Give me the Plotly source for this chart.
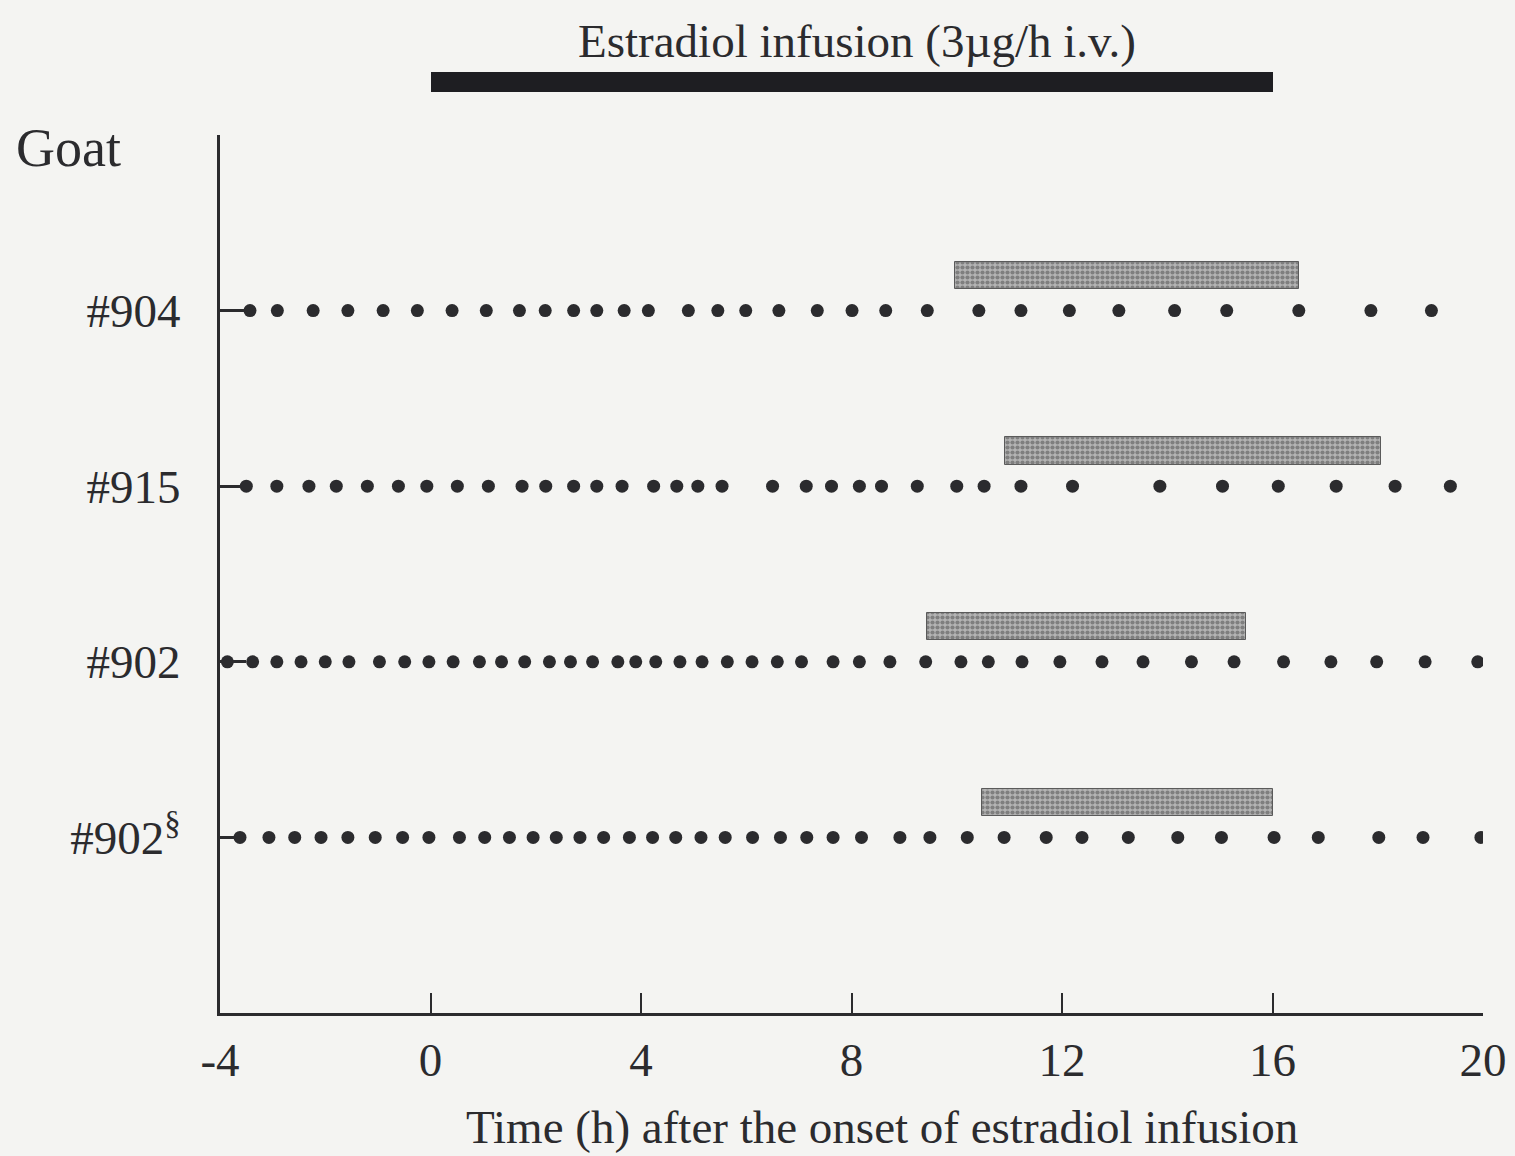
import plotly.graph_objects as go

# Sampling times (h after onset of estradiol infusion) for each goat
t904 = [-3.43, -2.91, -2.23, -1.57, -0.90, -0.25, 0.41, 1.06, 1.69, 2.18, 2.72, 3.16,
        3.68, 4.14, 4.90, 5.46, 5.99, 6.62, 7.35, 8.01, 8.65, 9.44, 10.42, 11.22, 12.14,
        13.08, 14.14, 15.13, 16.50, 17.87, 19.02]
t915 = [-3.50, -2.92, -2.31, -1.79, -1.20, -0.61, -0.07, 0.51, 1.10, 1.74, 2.19, 2.72,
        3.16, 3.64, 4.24, 4.68, 5.08, 5.54, 6.50, 7.14, 7.62, 8.15, 8.57, 9.25, 10.00,
        10.52, 11.22, 12.20, 13.86, 15.05, 16.11, 17.21, 18.33, 19.38]
t902 = [-3.86, -3.38, -2.92, -2.46, -2.00, -1.55, -0.97, -0.49, -0.03, 0.43, 0.93, 1.35,
        1.79, 2.26, 2.66, 3.08, 3.56, 3.90, 4.28, 4.74, 5.16, 5.64, 6.11, 6.59, 7.05, 7.65,
        8.15, 8.73, 9.41, 10.08, 10.60, 11.24, 11.96, 12.76, 13.54, 14.46, 15.27, 16.21,
        17.11, 17.98, 18.90, 19.90]
t902s = [-3.62, -3.07, -2.58, -2.08, -1.57, -1.05, -0.53, -0.03, 0.55, 1.03, 1.50, 1.95,
         2.39, 2.84, 3.29, 3.78, 4.22, 4.66, 5.14, 5.60, 6.12, 6.65, 7.15, 7.65, 8.19,
         8.92, 9.49, 10.20, 10.90, 11.70, 12.38, 13.26, 14.20, 15.03, 16.03, 16.87, 18.02,
         18.86, 19.96]

goats = ["#904", "#915", "#902", "#902<sup>§</sup>"]
goat_rows = [4, 3, 2, 1]
samples = [t904, t915, t902, t902s]

# LH surge periods (start, end) per goat
surge_start = [9.96, 10.92, 9.43, 10.48]
surge_end = [16.51, 18.06, 15.50, 16.00]

# Estradiol infusion period
infusion_start = 0
infusion_end = 16

x_ticks = [-4, 0, 4, 8, 12, 16, 20]

serif = "Liberation Serif"
ink = "#2b2b2e"
fs = 47

fig = go.Figure()

# Surge bars, drawn slightly above each sampling row
fig.add_trace(go.Bar(
    orientation="h",
    y=[r + 0.2 for r in goat_rows],
    base=surge_start,
    x=[e - s for s, e in zip(surge_start, surge_end)],
    width=0.155,
    marker=dict(
        color="#a8a8a8",
        line=dict(color="#5a5a5a", width=1),
        pattern=dict(shape=".", fgcolor="#4a4a4a", bgcolor="#b4b4b4", size=5, solidity=0.55),
    ),
    showlegend=False,
    hoverinfo="skip",
))

# Sampling points
for row, t in zip(goat_rows, samples):
    fig.add_trace(go.Scatter(
        x=t, y=[row] * len(t), mode="markers",
        marker=dict(size=13, color=ink),
        showlegend=False, hoverinfo="skip",
    ))

# Infusion bar on its own strip above the main panel
fig.add_trace(go.Bar(
    orientation="h",
    y=[0.5], base=[infusion_start], x=[infusion_end - infusion_start],
    width=1.0, marker=dict(color="#1e1e22", line=dict(width=0)),
    yaxis="y2", showlegend=False, hoverinfo="skip",
))

fig.update_layout(
    width=1515, height=1156,
    margin=dict(l=220, r=32, t=20, b=143),
    paper_bgcolor="#f4f4f2",
    plot_bgcolor="rgba(0,0,0,0)",
    font=dict(family=serif, size=fs, color=ink),
    bargap=0,
    xaxis=dict(
        range=[-4, 20], tickvals=x_ticks, ticktext=[str(v) for v in x_ticks],
        showgrid=False, zeroline=False,
        showline=True, linecolor=ink, linewidth=3,
        ticks="inside", ticklen=20, tickwidth=2, tickcolor=ink,
        ticklabelstandoff=4,
        tickfont=dict(family=serif, size=fs, color=ink),
        anchor="y", automargin=False,
    ),
    yaxis=dict(
        domain=[0, 0.8842], range=[0, 5],
        tickvals=goat_rows,
        ticktext=goats,
        showgrid=False, zeroline=False,
        showline=True, linecolor=ink, linewidth=3,
        ticks="inside", ticklen=26, tickwidth=3, tickcolor=ink,
        ticklabelstandoff=27,
        tickfont=dict(family=serif, size=fs, color=ink),
        minor=dict(tickvals=[5], ticks="inside", ticklen=20, tickwidth=3, tickcolor=ink),
        automargin=False,
    ),
    yaxis2=dict(
        domain=[0.9275, 0.9476], range=[0, 1],
        visible=False, anchor="x", automargin=False,
    ),
    annotations=[
        dict(text="Estradiol infusion (3µg/h i.v.)", xref="x", yref="paper",
             x=8.1, y=(1013 - 41) / 993, xanchor="center", yanchor="middle",
             showarrow=False, font=dict(family=serif, size=fs, color=ink)),
        dict(text="Goat", xref="paper", yref="paper",
             x=-0.163, y=(1013 - 148) / 993, xanchor="left", yanchor="middle",
             showarrow=False, font=dict(family=serif, size=54, color=ink)),
        dict(text="Time (h) after the onset of estradiol infusion", xref="x", yref="paper",
             x=8.57, y=-(1127 - 1013) / 993, xanchor="center", yanchor="middle",
             showarrow=False, font=dict(family=serif, size=fs, color=ink)),
    ],
)

fig.write_html("out.html")
